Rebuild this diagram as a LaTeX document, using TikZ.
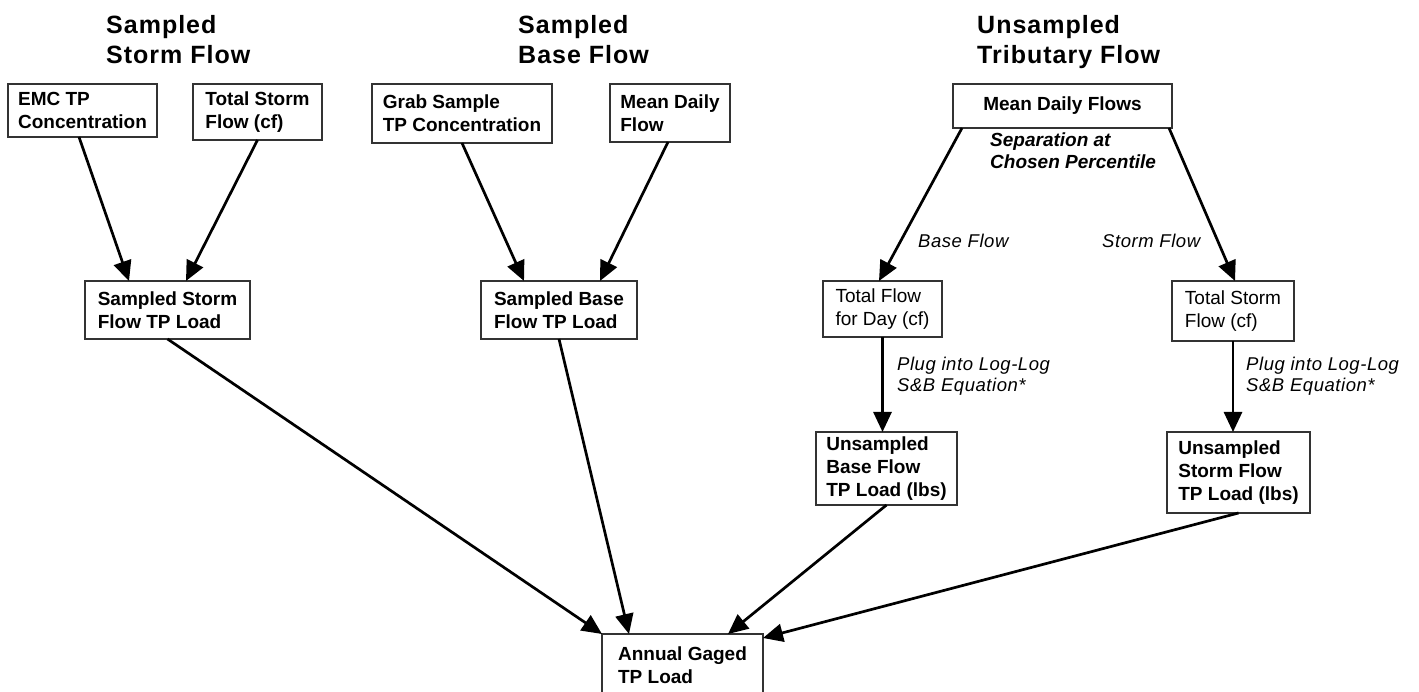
\documentclass[tikz,border=0pt]{standalone}
\usepackage{fontspec}
\setmainfont{Liberation Sans}
\usetikzlibrary{arrows.meta}

\begin{document}
\begin{tikzpicture}[x=1pt,y=-1pt,
    box/.style={draw=black!80,line width=1.2pt,anchor=north west,align=left,inner sep=0pt,outer sep=0pt,font=\bfseries\fontsize{19}{23}\selectfont},
    plain/.style={box,font=\fontsize{19}{23}\selectfont},
    head/.style={anchor=north west,align=left,inner sep=0pt,font=\bfseries\fontsize{25}{30}\selectfont\addfontfeatures{LetterSpace=4}},
    lbl/.style={anchor=north west,align=left,inner sep=0pt,font=\itshape\fontsize{18.5}{21}\selectfont\addfontfeatures{LetterSpace=3}},
    arr/.style={-{Triangle[length=20pt,width=18pt]},line width=2.7pt}]
\useasboundingbox (0,0) rectangle (1419,692);
\node[head] (hstorm) at (106,15) {Sampled\\Storm Flow};
\node[head] (hbase) at (518,15) {Sampled\\Base Flow};
\node[head] (htrib) at (977,15) {Unsampled\\Tributary Flow};
\node[box,minimum width=149pt,minimum height=53pt] (emc) at (8,84) {EMC TP\\Concentration};
\node[box,minimum width=129pt,minimum height=56pt] (tsf) at (193,84) {Total Storm\\Flow (cf)};
\node[box,minimum width=180pt,minimum height=59pt] (grab) at (372,84) {Grab Sample\\TP Concentration};
\node[box,minimum width=120pt,minimum height=58pt] (mdf) at (610,84) {Mean Daily\\Flow};
\node[box,minimum width=219pt,minimum height=44pt,align=center] (mdfs) at (953,84) {Mean Daily Flows};
\node[lbl,font=\bfseries\itshape\fontsize{19}{22}\selectfont] (sep) at (990,133) {Separation at\\Chosen Percentile};
\node[box,minimum width=165pt,minimum height=58pt] (ssl) at (85,281) {Sampled Storm\\Flow TP Load};
\node[box,minimum width=156pt,minimum height=58pt] (sbl) at (481,281) {Sampled Base\\Flow TP Load};
\node[plain,minimum width=119pt,minimum height=56pt] (tfd) at (823,281) {Total Flow\\for Day (cf)};
\node[plain,minimum width=122pt,minimum height=60pt] (tsr) at (1172,281) {Total Storm\\Flow (cf)};
\node[box,minimum width=141pt,minimum height=73pt] (ubl) at (816,432) {Unsampled\\Base Flow\\TP Load (lbs)};
\node[box,minimum width=143pt,minimum height=81pt] (usl) at (1167,432) {Unsampled\\Storm Flow\\TP Load (lbs)};
\node[box,minimum width=161pt,minimum height=62pt] (agl) at (602,634) {Annual Gaged\\TP Load};
\node[lbl,anchor=base west] (lbase) at (918,248) {Base Flow};
\node[lbl,anchor=base west] (lstorm) at (1102,248) {Storm Flow};
\node[lbl] (plug1) at (897,357) {Plug into Log-Log\\S\&B Equation*};
\node[lbl] (plug2) at (1246,357) {Plug into Log-Log\\S\&B Equation*};
\draw[arr] ([xshift=-3.5pt]emc.south) -- ([xshift=-38.5pt]ssl.north);
\draw[arr] (tsf.south) -- ([xshift=18.5pt]ssl.north);
\draw[arr] (grab.south) -- ([xshift=-35pt]sbl.north);
\draw[arr] ([xshift=-2pt]mdf.south) -- ([xshift=41pt]sbl.north);
\draw[arr] ([xshift=-100.5pt]mdfs.south) -- ([xshift=-3.5pt]tfd.north);
\draw[arr] ([xshift=106.5pt]mdfs.south) -- ([xshift=2pt]tsr.north);
\draw[arr] (tfd.south) -- (tfd.south |- ubl.north);
\draw[arr] (tsr.south) -- (tsr.south |- usl.north);
\draw[arr] (ssl.south) -- (agl.north west);
\draw[arr] (sbl.south) -- ([xshift=-53.5pt]agl.north);
\draw[arr] (ubl.south) -- ([xshift=45.5pt]agl.north);
\draw[arr] (usl.south) -- ([yshift=-4pt]agl.north east);
\end{tikzpicture}
\end{document}
